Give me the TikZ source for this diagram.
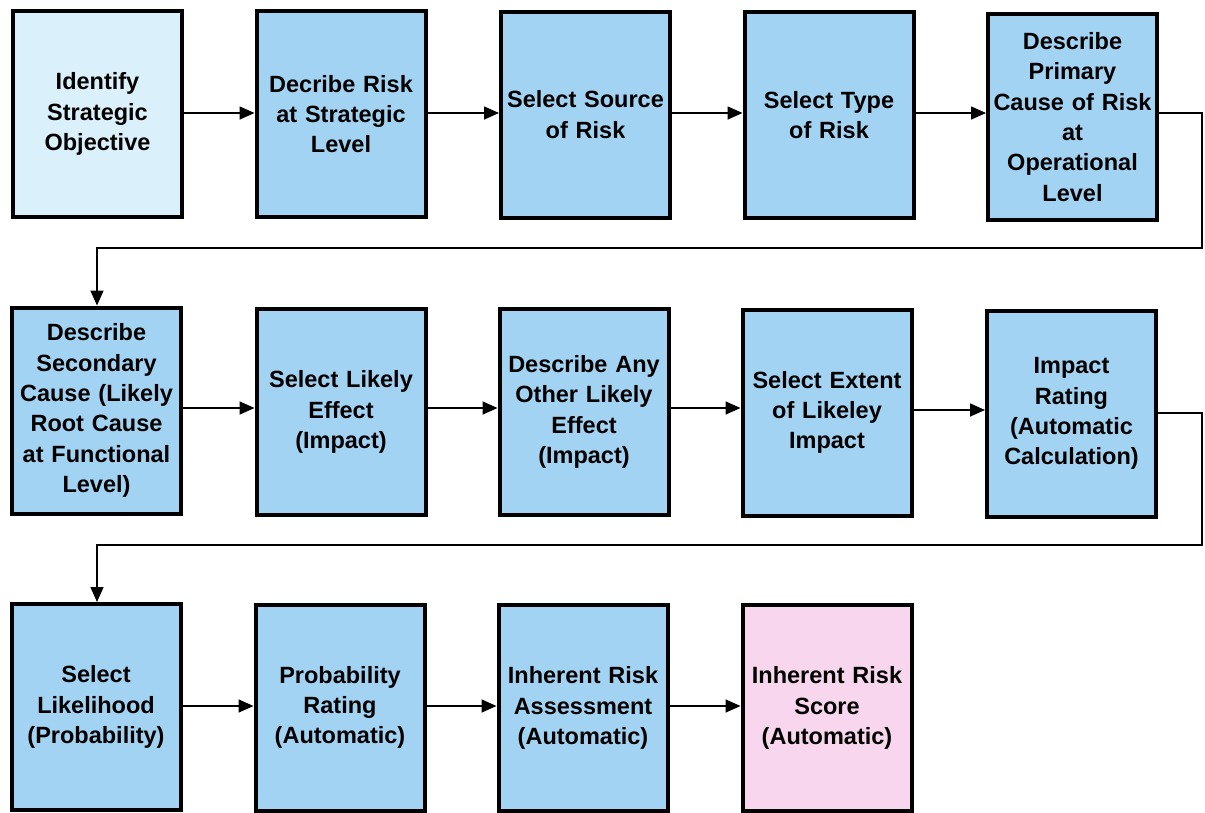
\documentclass[tikz,border=0pt]{standalone}
\usepackage{fontspec}
\setmainfont{Liberation Sans}
\usetikzlibrary{arrows.meta}
\definecolor{boxlight}{RGB}{218,240,250}
\definecolor{boxblue}{RGB}{163,211,242}
\definecolor{boxpink}{RGB}{248,214,238}
\begin{document}
\begin{tikzpicture}[x=1pt,y=-1pt,
  stepbox/.style={draw=black, line width=4pt, fill=boxblue, rectangle,
    minimum width=169pt, minimum height=206pt, inner sep=0pt,
    align=center, text width=169pt,
    font=\fontsize{23.5pt}{30.3pt}\selectfont\bfseries},
  lightbox/.style={stepbox, fill=boxlight},
  pinkbox/.style={stepbox, fill=boxpink},
  conn/.style={draw=black, line width=1.6pt, -{Triangle[length=15pt,width=13pt]}},
  loop/.style={draw=black, line width=1.6pt, rounded corners=0pt, -{Triangle[length=15pt,width=13pt]}}
]
\fill[white] (0,0) rectangle (1205,812);
\useasboundingbox (0,0) rectangle (1205,812);

% Row 1
\node[lightbox] (a1) at (97.5,114) {Identify\\Strategic\\Objective};
\node[stepbox] (a2) at (341,114) {Decribe Risk\\at Strategic\\Level};
\node[stepbox] (a3) at (585.5,114.5) {Select Source\\of Risk};
\node[stepbox] (a4) at (829,115) {Select Type\\of Risk};
\node[stepbox] (a5) at (1072.5,117) {Describe\\Primary\\Cause of Risk\\at\\Operational\\Level};

% Row 2
\node[stepbox] (b1) at (96.5,410.5) {Describe\\Secondary\\Cause (Likely\\Root Cause\\at Functional\\Level)};
\node[stepbox] (b2) at (341,412) {Select Likely\\Effect\\(Impact)};
\node[stepbox] (b3) at (584,412) {Describe Any\\Other Likely\\Effect\\(Impact)};
\node[stepbox] (b4) at (827,412.5) {Select Extent\\of Likeley\\Impact};
\node[stepbox] (b5) at (1071.5,413.5) {Impact\\Rating\\(Automatic\\Calculation)};

% Row 3
\node[stepbox] (c1) at (96,707) {Select\\Likelihood\\(Probability)};
\node[stepbox] (c2) at (340,707.5) {Probability\\Rating\\(Automatic)};
\node[stepbox] (c3) at (583,708) {Inherent Risk\\Assessment\\(Automatic)};
\node[pinkbox] (c4) at (827,708) {Inherent Risk\\Score\\(Automatic)};

% Connectors row 1
\draw[conn] (a1.east |- 0,113) -- (a2.west |- 0,113);
\draw[conn] (a2.east |- 0,113) -- (a3.west |- 0,113);
\draw[conn] (a3.east |- 0,113) -- (a4.west |- 0,113);
\draw[conn] (a4.east |- 0,113) -- (a5.west |- 0,113);

\coordinate (t1) at (1202,248);
\draw[loop] (a5.east |- 0,113) -- (t1 |- 0,113) -- (t1) -- (97,248) -- (b1.north -| 97,0);

% Connectors row 2
\draw[conn] (b1.east |- 0,408) -- (b2.west |- 0,408);
\draw[conn] (b2.east |- 0,408) -- (b3.west |- 0,408);
\draw[conn] (b3.east |- 0,408) -- (b4.west |- 0,408);
\draw[conn] (b4.east |- 0,410) -- (b5.west |- 0,410);

\coordinate (t2) at (1202,545);
\draw[loop] (b5.east |- 0,413) -- (t2 |- 0,413) -- (t2) -- (97,545) -- (c1.north -| 97,0);

% Connectors row 3
\draw[conn] (c1.east |- 0,706) -- (c2.west |- 0,706);
\draw[conn] (c2.east |- 0,706) -- (c3.west |- 0,706);
\draw[conn] (c3.east |- 0,706) -- (c4.west |- 0,706);
\end{tikzpicture}
\end{document}
